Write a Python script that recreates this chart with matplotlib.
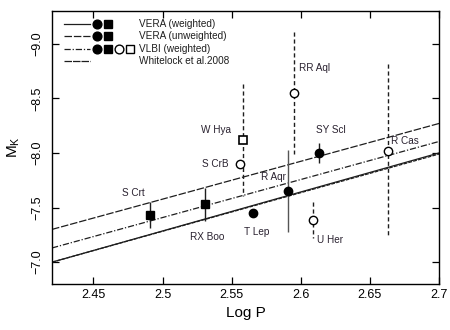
import matplotlib
matplotlib.use("Agg")
import matplotlib.pyplot as plt

plt.rcParams['font.family'] = ['Liberation Sans', 'DejaVu Sans']

# fit lines (end points at log P = 2.42 and 2.70)
fit_x = [2.42, 2.70]
vera_w = [-7.00, -8.00]
vera_unw = [-7.30, -8.27]
vlbi_w = [-7.13, -8.105]
whitelock = [-7.00, -7.99]

# VERA, filled squares
sq_names = ['S Crt', 'RX Boo']
sq_logp = [2.491, 2.531]
sq_mk = [-7.43, -7.53]
sq_err = [0.12, 0.15]

# VERA, filled circles
fc_names = ['SY Scl', 'R Aqr', 'T Lep']
fc_logp = [2.6135, 2.5905, 2.5652]
fc_mk = [-8.00, -7.65, -7.45]
fc_err = [0.09, 0.375, 0.03]

# other VLBI, open circles
oc_names = ['S CrB', 'RR Aql', 'R Cas', 'U Her']
oc_logp = [2.5558, 2.5949, 2.6628, 2.6086]
oc_mk = [-7.90, -8.55, -8.02, -7.39]
oc_err = [0.04, 0.56, 0.79, 0.165]

# other VLBI, open square
os_names = ['W Hya']
os_logp = [2.5585]
os_mk = [-8.12]
os_err = [0.51]

# label positions
lab_names = ['S Crt', 'RX Boo', 'W Hya', 'S CrB', 'RR Aql', 'SY Scl',
             'R Cas', 'R Aqr', 'T Lep', 'U Her']
lab_x = [2.4792, 2.532, 2.5389, 2.5378, 2.610, 2.6219,
         2.6754, 2.5804, 2.5681, 2.6212]
lab_y = [-7.63, -7.23, -8.21, -7.90, -8.78, -8.21,
         -8.105, -7.78, -7.28, -7.20]

fig = plt.figure(figsize=(4.5, 3.3), dpi=100)
ax = fig.add_axes([0.1156, 0.1394, 0.86, 0.8273])

ink = '#1e1e1e'

# fits
ax.plot(fit_x, vera_w, color=ink, lw=0.9, ls='-')
ax.plot(fit_x, whitelock, color=ink, lw=0.9, ls=(0, (3, 1)))
ax.plot(fit_x, vera_unw, color=ink, lw=0.9, ls=(0, (6, 1.5)))
ax.plot(fit_x, vlbi_w, color=ink, lw=0.9, ls=(0, (5, 1.5, 1, 1.5)))

# error bars
def vbars(xs, ys, es, style, col=ink):
    ax.vlines(xs, [y - e for y, e in zip(ys, es)], [y + e for y, e in zip(ys, es)],
              colors=col, linestyles=style, lw=1.0, zorder=2)

vbars(sq_logp, sq_mk, sq_err, 'solid')
vbars(fc_logp[:1] + fc_logp[2:], fc_mk[:1] + fc_mk[2:], fc_err[:1] + fc_err[2:], 'solid')
vbars(fc_logp[1:2], fc_mk[1:2], fc_err[1:2], 'solid', '#555555')
vbars(oc_logp, oc_mk, oc_err, (0, (3, 2)))
vbars(os_logp, os_mk, os_err, (0, (3, 2)))

# points
ax.plot(sq_logp, sq_mk, 's', color='black', ms=6.3, zorder=4)
ax.plot(fc_logp, fc_mk, 'o', color='black', ms=6.0, zorder=4)
ax.plot(oc_logp, oc_mk, 'o', mfc='white', mec='black', mew=1.0, ms=6.0, zorder=4)
ax.plot(os_logp, os_mk, 's', mfc='white', mec='black', mew=1.2, ms=5.8, zorder=4)

for n, x, y in zip(lab_names, lab_x, lab_y):
    ax.text(x, y, n, fontsize=7.2, color='#2a2230', ha='center', va='center')

# legend drawn by hand
rows = [0.952, 0.907, 0.859, 0.815]
styles = ['-', (0, (6, 1.5)), (0, (5, 1.5, 1, 1.5)), (0, (6, 0.8))]
texts = ['VERA (weighted)', 'VERA (unweighted)', 'VLBI (weighted)', 'Whitelock et al.2008']
for yr, st, tx in zip(rows, styles, texts):
    ax.plot([0.031, 0.098], [yr, yr], transform=ax.transAxes, color=ink, lw=0.9, ls=st)
    ax.text(0.225, yr, tx, transform=ax.transAxes, fontsize=7.2, va='center', color=ink)
for yr in rows[:3]:
    ax.plot([0.116], [yr], 'o', transform=ax.transAxes, color='black', ms=6.3)
    ax.plot([0.145], [yr], 's', transform=ax.transAxes, color='black', ms=6.3)
ax.plot([0.173], [rows[2]], 'o', transform=ax.transAxes, mfc='white', mec='black', ms=6.3)
ax.plot([0.202], [rows[2]], 's', transform=ax.transAxes, mfc='white', mec='black', ms=6)

ax.set_xlim(2.42, 2.70)
ax.set_ylim(-6.8, -9.3)
ax.set_xticks([2.45, 2.5, 2.55, 2.6, 2.65, 2.7])
ax.set_xticklabels(['2.45', '2.5', '2.55', '2.6', '2.65', '2.7'])
ax.set_yticks([-9, -8.5, -8, -7.5, -7])
ax.tick_params(direction='in', top=True, right=True, length=5, width=0.9, labelsize=9)
ax.tick_params(axis='y', labelrotation=90, pad=6)
for t in ax.get_yticklabels():
    t.set_va('center')
for s in ax.spines.values():
    s.set_linewidth(1.0)

ax.set_xlabel('Log P', fontsize=11, labelpad=4)
ax.set_ylabel(r'M$_\mathregular{K}$', fontsize=11, labelpad=7)

fig.savefig('out.png', dpi=100)
